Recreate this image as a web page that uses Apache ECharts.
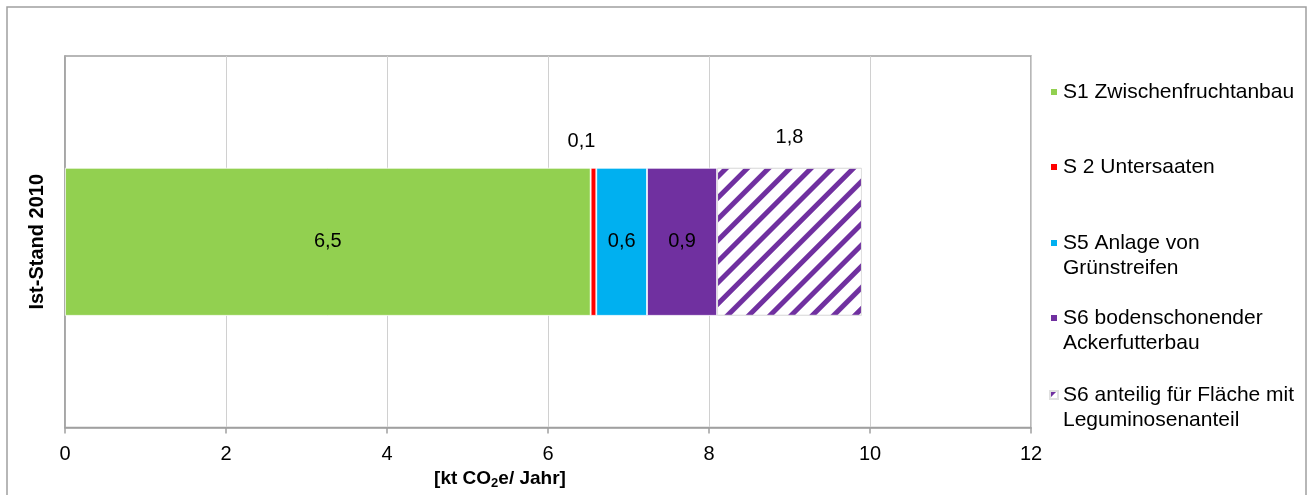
<!DOCTYPE html>
<html>
<head>
<meta charset="utf-8">
<script src="https://cdn.jsdelivr.net/npm/echarts@6/dist/echarts.min.js"></script>
<style>
html,body{margin:0;padding:0;background:#fff;}
#chart{width:1312px;height:495px;}
</style>
</head>
<body>
<div id="chart"></div>
<script>
var categories = ['Ist-Stand 2010'];
var seriesNames = [
  'S1 Zwischenfruchtanbau',
  'S 2 Untersaaten',
  'S5 Anlage von\nGrünstreifen',
  'S6 bodenschonender\nAckerfutterbau',
  'S6 anteilig für Fläche mit\nLeguminosenanteil'
];
var s1Values = [6.53];
var s2Values = [0.07];
var s5Values = [0.63];
var s6Values = [0.87];
var s6LegValues = [1.80];
var xTicks = [0, 2, 4, 6, 8, 10, 12];

var FONT = '"Liberation Sans", Arial, sans-serif';
var fmt = function (p) { return p.value.toFixed(1).replace('.', ','); };

var chart = echarts.init(document.getElementById('chart'), null, {renderer: 'canvas'});

function lbl(extra) {
  var o = {show: true, formatter: fmt, color: '#000', fontSize: 20, fontFamily: FONT};
  for (var k in extra) o[k] = extra[k];
  return o;
}

var series = [
  {name: seriesNames[0], type: 'bar', stack: 't', data: s1Values, barWidth: 148,
   itemStyle: {color: '#92d050', borderColor: '#fff', borderWidth: 0.8},
   label: lbl({position: 'inside'})},
  {name: seriesNames[1], type: 'bar', stack: 't', data: s2Values,
   itemStyle: {color: '#ff0000', borderColor: '#fff', borderWidth: 0.8},
   label: lbl({position: 'top', offset: [-12, -11]})},
  {name: seriesNames[2], type: 'bar', stack: 't', data: s5Values,
   itemStyle: {color: '#00b0f0', borderColor: '#fff', borderWidth: 0.8},
   label: lbl({position: 'inside'})},
  {name: seriesNames[3], type: 'bar', stack: 't', data: s6Values,
   itemStyle: {color: '#7030a0', borderColor: '#fff', borderWidth: 0.8},
   label: lbl({position: 'inside'})},
  {name: seriesNames[4], type: 'bar', stack: 't', data: s6LegValues,
   itemStyle: {color: '#ffffff', borderColor: '#e0e0e0', borderWidth: 1,
     decal: {symbol: 'rect', symbolSize: 1, dashArrayX: [1, 0], dashArrayY: [5, 10],
             rotation: -Math.PI / 4, color: '#7030a0'}},
   label: lbl({position: 'top', offset: [0, -15]})}
];

var L = 25;
var legendTops = [79.5, 154.5, 205.5, 280.5, 357.5];
var legends = seriesNames.map(function (n, i) {
  var twoLine = n.indexOf('\n') >= 0;
  return {
    data: [n], left: 1049, top: legendTops[i], orient: 'vertical', padding: 0,
    itemWidth: 8, itemHeight: 8, icon: 'rect', selectedMode: false,
    formatter: function (name) { return twoLine ? '\u00a0\n' + name : name; },
    textStyle: {color: '#000', fontSize: 21, fontFamily: FONT, lineHeight: L}
  };
});

var option = {
  animation: false,
  backgroundColor: '#fff',
  aria: {enabled: false},
  grid: {left: 65, top: 56, width: 966, height: 373, show: true,
         borderColor: '#a0a0a0', borderWidth: 1.5, backgroundColor: 'transparent'},
  legend: legends,
  xAxis: {
    type: 'value', min: xTicks[0], max: xTicks[xTicks.length - 1], interval: 2,
    axisLine: {show: true, lineStyle: {color: '#a0a0a0', width: 1.5}},
    axisTick: {show: true, length: 6, lineStyle: {color: '#a0a0a0', width: 1.5}},
    splitLine: {show: true, lineStyle: {color: '#d0d0d0', width: 1}},
    axisLabel: {color: '#000', fontSize: 20, fontFamily: FONT, margin: 17},
    name: '{a|[kt CO}{s|2}{a|e/ Jahr]}',
    nameLocation: 'middle', nameGap: 33,
    nameTextStyle: {
      padding: [0, 96, 0, 0],
      rich: {
        a: {fontSize: 19, fontWeight: 'bold', color: '#000', fontFamily: FONT},
        s: {fontSize: 13, fontWeight: 'bold', color: '#000', fontFamily: FONT, padding: [9, 0, 0, 0]}
      }
    }
  },
  yAxis: {
    type: 'category', data: categories,
    axisLine: {show: true, lineStyle: {color: '#a0a0a0', width: 1.5}},
    axisTick: {show: false},
    splitLine: {show: false},
    axisLabel: {rotate: 90, fontSize: 20, fontWeight: 'bold', color: '#000',
                fontFamily: FONT, margin: 18}
  },
  graphic: [{
    type: 'rect', silent: true, z: -1,
    shape: {x: 7, y: 7, width: 1299, height: 500},
    style: {fill: 'none', stroke: '#a0a0a0', lineWidth: 1.5}
  }],
  series: series
};
chart.setOption(option);
</script>
</body>
</html>
